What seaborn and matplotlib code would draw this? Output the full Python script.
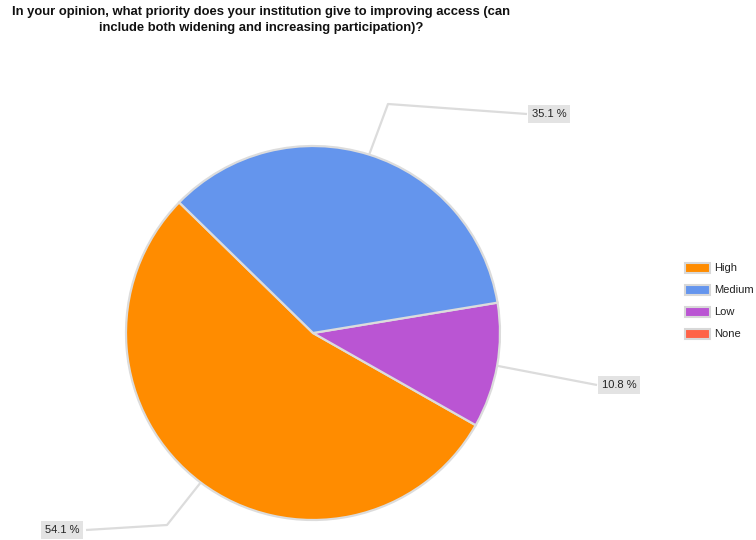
import numpy as np
import matplotlib
matplotlib.use("Agg")
import matplotlib.pyplot as plt
from matplotlib.patches import Rectangle
import seaborn as sns

# Survey responses (percent of institutions)
categories = ["High", "Medium", "Low", "None"]
shares = [54.1, 35.1, 10.8, 0.0]
colors = ["#FF8C00", "#6495ED", "#BA55D3", "#FF6347"]
value_labels = ["54.1 %", "35.1 %", "10.8 %", ""]
title = ("In your opinion, what priority does your institution give to improving access (can\n"
         "include both widening and increasing participation)?")

sns.set_theme(style="white")
plt.rcParams["font.family"] = ["Liberation Sans", "DejaVu Sans"]

W, H = 756, 540
fig = plt.figure(figsize=(W / 100, H / 100), dpi=100)
ax = fig.add_axes([0, 0, 1, 1])

cx, cy, r = 313, H - 333, 187

# slices drawn counterclockwise: High, Low, Medium
draw_order = [0, 2, 1]
idx = [i for i in draw_order if shares[i] > 0]
wedges, _ = ax.pie([shares[i] for i in idx], colors=[colors[i] for i in idx],
                   center=(cx, cy), radius=r, startangle=135.7, counterclock=True,
                   wedgeprops=dict(edgecolor="#dcdcdc", linewidth=1.6),
                   frame=True)
ax.set_xlim(0, W)
ax.set_ylim(0, H)
ax.set_aspect("equal")
ax.axis("off")

# leader lines and value boxes
layout = {
    0: dict(bend=(167, 525), end=(86, 530), text=(62, 530)),
    1: dict(bend=(388, 104), end=(527, 114), text=(549, 114)),
    2: dict(bend=None, end=(597, 385), text=(619, 385)),
}
for w, i in zip(wedges, idx):
    mid = np.deg2rad((w.theta1 + w.theta2) / 2)
    sx, sy = cx + r * np.cos(mid), cy + r * np.sin(mid)
    L = layout[i]
    pts = [(sx, sy)]
    if L["bend"] is not None:
        pts.append((L["bend"][0], H - L["bend"][1]))
    pts.append((L["end"][0], H - L["end"][1]))
    xs, ys = zip(*pts)
    ax.plot(xs, ys, color="#dcdcdc", lw=1.6, zorder=1, solid_capstyle="butt")
    ax.text(L["text"][0], H - L["text"][1], value_labels[i], ha="center", va="center",
            fontsize=8, color="#222222", zorder=3,
            bbox=dict(boxstyle="square,pad=0.35", fc="#e3e3e3", ec="none"))

# legend
for k, (name, col) in enumerate(zip(categories, colors)):
    y = H - (268 + 22 * k)
    ax.add_patch(Rectangle((685, y - 5), 25, 10, facecolor=col, edgecolor="#d8d8d8", lw=1.5))
    ax.text(714, y, name, ha="left", va="center", fontsize=8, color="#222222")

# title: centred block whose left edge sits near the figure's left margin
t = fig.text(0.5, 1 - 6 / H, title, ha="center", va="top", fontsize=9.4,
             fontweight="bold", linespacing=1.5, color="#111111")
fig.canvas.draw()
bb = t.get_window_extent()
t.set_x((12 + bb.width / 2) / W)

fig.savefig("out.png", dpi=100, facecolor="white")
